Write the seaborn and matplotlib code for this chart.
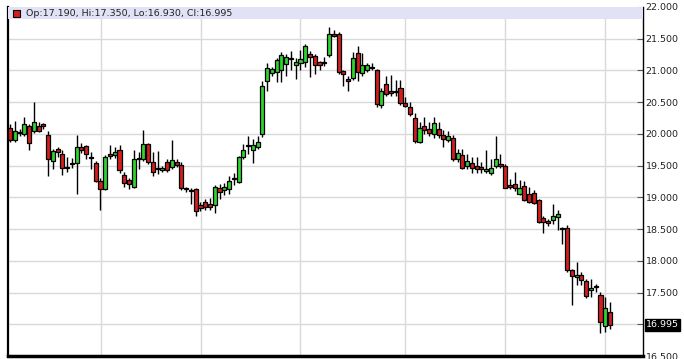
import numpy as np
import pandas as pd
import matplotlib
matplotlib.use("Agg")
import matplotlib.pyplot as plt
from matplotlib.patches import Rectangle
import seaborn as sns

# ---- data ----
opens = [20.09, 19.91, 20.01, 20.00, 20.13, 20.04, 20.13, 20.15, 19.99, 19.58,
         19.76, 19.69, 19.46, 19.52, 19.54, 19.80, 19.81, 19.62, 19.54, 19.26,
         19.13, 19.69, 19.67, 19.74, 19.35, 19.27, 19.17, 19.60, 19.61, 19.84,
         19.56, 19.45, 19.43, 19.56, 19.48, 19.56, 19.51, 19.13, 19.12, 19.13,
         18.88, 18.92, 18.90, 18.88, 19.14, 19.11, 19.13, 19.29, 19.24, 19.63,
         19.81, 19.75, 19.80, 20.00, 20.83, 20.96, 20.97, 21.00, 21.10, 21.18,
         21.09, 21.12, 21.14, 21.26, 21.22, 21.13, 21.12, 21.25, 21.58, 21.58,
         20.99, 20.86, 20.88, 21.28, 20.96, 21.01, 21.04, 21.00, 20.45, 20.79,
         20.67, 20.66, 20.72, 20.48, 20.42, 20.25, 19.87, 20.12, 20.07, 20.00,
         20.07, 19.98, 19.91, 19.93, 19.60, 19.67, 19.49, 19.54, 19.49, 19.48,
         19.41, 19.39, 19.49, 19.53, 19.49, 19.20, 19.21, 19.06, 19.18, 19.06,
         19.07, 18.96, 18.68, 18.62, 18.64, 18.69, 18.52, 18.52, 17.85, 17.74,
         17.78, 17.68, 17.54, 17.60, 17.46, 16.98, 17.19]
highs = [20.16, 20.21, 20.08, 20.27, 20.16, 20.50, 20.18, 20.17, 20.04, 19.76,
         19.80, 19.75, 19.63, 19.62, 19.98, 19.85, 19.83, 19.71, 19.58, 19.30,
         19.67, 19.82, 19.80, 19.82, 19.40, 19.30, 19.74, 19.71, 20.06, 19.86,
         19.71, 19.73, 19.50, 19.60, 19.90, 19.60, 19.55, 19.17, 19.15, 19.14,
         18.92, 18.97, 18.99, 19.20, 19.21, 19.23, 19.34, 19.39, 19.65, 19.84,
         19.97, 19.92, 19.97, 20.84, 21.12, 21.06, 21.20, 21.29, 21.26, 21.30,
         21.20, 21.32, 21.41, 21.30, 21.26, 21.15, 21.21, 21.68, 21.63, 21.61,
         21.00, 20.92, 21.29, 21.38, 21.27, 21.12, 21.11, 21.02, 20.72, 20.92,
         20.93, 20.85, 20.85, 20.58, 20.50, 20.33, 20.18, 20.26, 20.18, 20.26,
         20.19, 20.06, 20.05, 19.99, 19.77, 19.77, 19.68, 19.64, 19.64, 19.55,
         19.74, 19.60, 19.96, 19.69, 19.52, 19.29, 19.40, 19.28, 19.26, 19.16,
         19.12, 18.98, 18.70, 18.66, 18.90, 18.80, 18.54, 18.56, 17.87, 17.98,
         17.82, 17.72, 17.72, 17.64, 17.51, 17.43, 17.35]
lows = [19.87, 19.88, 19.96, 19.97, 19.75, 20.02, 20.03, 20.08, 19.33, 19.45,
        19.64, 19.35, 19.40, 19.47, 19.05, 19.70, 19.60, 19.45, 19.24, 18.80,
        19.11, 19.60, 19.62, 19.38, 19.17, 19.13, 19.15, 19.45, 19.58, 19.52,
        19.33, 19.37, 19.40, 19.40, 19.45, 19.48, 19.12, 19.08, 18.90, 18.70,
        18.78, 18.80, 18.80, 18.76, 18.98, 19.04, 19.05, 19.20, 19.22, 19.60,
        19.68, 19.54, 19.76, 19.95, 20.68, 20.92, 20.82, 20.82, 20.92, 21.00,
        20.87, 21.00, 21.05, 20.89, 20.95, 21.00, 21.07, 21.21, 21.52, 20.95,
        20.76, 20.68, 20.85, 20.84, 20.92, 20.98, 21.00, 20.42, 20.41, 20.60,
        20.60, 20.60, 20.45, 20.42, 20.29, 19.86, 19.85, 20.00, 19.97, 19.94,
        19.93, 19.80, 19.88, 19.58, 19.56, 19.44, 19.44, 19.39, 19.39, 19.38,
        19.38, 19.36, 19.47, 19.47, 19.14, 19.13, 19.10, 19.04, 18.94, 18.91,
        18.89, 18.59, 18.44, 18.55, 18.58, 18.48, 18.27, 17.83, 17.31, 17.62,
        17.62, 17.41, 17.43, 17.51, 16.86, 16.88, 16.93]
closes = [19.90, 20.04, 20.03, 20.15, 19.85, 20.19, 20.05, 20.12, 19.60, 19.73,
          19.71, 19.46, 19.48, 19.54, 19.79, 19.75, 19.69, 19.64, 19.26, 19.13,
          19.63, 19.65, 19.72, 19.43, 19.22, 19.21, 19.61, 19.62, 19.84, 19.56,
          19.40, 19.47, 19.46, 19.43, 19.59, 19.51, 19.14, 19.15, 19.10, 18.78,
          18.84, 18.85, 18.85, 19.16, 19.08, 19.16, 19.26, 19.31, 19.63, 19.75,
          19.83, 19.83, 19.88, 20.75, 21.04, 21.02, 21.16, 21.24, 21.21, 21.20,
          21.13, 21.18, 21.38, 21.21, 21.09, 21.09, 21.14, 21.58, 21.54, 20.97,
          20.95, 20.84, 21.20, 20.97, 21.08, 21.08, 21.06, 20.47, 20.68, 20.63,
          20.65, 20.67, 20.48, 20.44, 20.31, 19.89, 20.10, 20.06, 20.01, 20.17,
          19.98, 19.92, 19.97, 19.60, 19.70, 19.47, 19.57, 19.47, 19.45, 19.44,
          19.45, 19.46, 19.61, 19.49, 19.15, 19.17, 19.14, 19.15, 18.96, 18.93,
          18.91, 18.61, 18.61, 18.60, 18.71, 18.73, 18.50, 17.85, 17.76, 17.78,
          17.70, 17.45, 17.57, 17.58, 17.04, 17.25, 16.995]

y_ticks = [22.0, 21.5, 21.0, 20.5, 20.0, 19.5, 19.0, 18.5, 18.0, 17.5, 17.0, 16.5]
y_tick_labels = ["22.000", "21.500", "21.000", "20.500", "20.000", "19.500",
                 "19.000", "18.500", "18.000", "17.500", "17.000", "16.500"]
header_text = "Op:17.190, Hi:17.350, Lo:16.930, Cl:16.995"
last_label = "16.995"

df = pd.DataFrame({"open": opens, "high": highs, "low": lows, "close": closes})
df["idx"] = np.arange(len(df))
df["up"] = df["close"] >= df["open"]
df["bottom"] = df[["open", "close"]].min(axis=1)
df["height"] = (df["close"] - df["open"]).abs()

GREEN = "#2fd52f"
RED = "#d41e1e"

sns.set_theme(style="white")
plt.rcParams["font.family"] = ["DejaVu Sans"]

fig = plt.figure(figsize=(6.84, 3.59), dpi=100)
W, H = 684, 359
ax_l, ax_r, ax_t, ax_b = 8, 643, 7, 356
ax = fig.add_axes([ax_l / W, 1 - ax_b / H, (ax_r - ax_l) / W, (ax_b - ax_t) / H])

# wicks
ax.vlines(df["idx"], df["low"], df["high"], color="black", linewidth=1.0, zorder=3)
# bodies
colors = np.where(df["up"], GREEN, RED)
ax.bar(df["idx"], df["height"].clip(lower=0.004), bottom=df["bottom"], width=0.86,
       color=colors, edgecolor="black", linewidth=0.9, zorder=4)

ax.set_ylim(16.5, 22.0)
ax.set_xlim(-0.42, 132.93)

# grid
ax.set_xticks([19.1, 40.2, 61.0, 83.0, 104.0, 125.0])
ax.set_xticklabels([])
ax.set_yticks(y_ticks)
ax.set_yticklabels(y_tick_labels)
ax.grid(True, color="#d9d9d9", linewidth=1.0, zorder=0)
ax.set_axisbelow(True)
ax.yaxis.tick_right()
ax.tick_params(axis="y", direction="in", length=4, width=0.8, color="#555555",
               labelsize=6.8, pad=2, labelcolor="#222222", right=True, left=False)
ax.tick_params(axis="x", length=0)

ax.spines["top"].set_visible(False)
ax.spines["left"].set_color("black")
ax.spines["left"].set_linewidth(1.6)
ax.spines["right"].set_color("black")
ax.spines["right"].set_linewidth(1.0)
ax.spines["bottom"].set_color("black")
ax.spines["bottom"].set_linewidth(2.5)

# header band
band_h = 10.5 / (ax_b - ax_t)
ax.add_patch(Rectangle((0, 1 - band_h - 0.003), 1, band_h + 0.003, transform=ax.transAxes,
                       facecolor="#e2e2f6", edgecolor="none", zorder=5, clip_on=False))
sq_w = 7 / (ax_r - ax_l)
sq_h = 7 / (ax_b - ax_t)
ax.add_patch(Rectangle((5 / (ax_r - ax_l), 1 - 9.5 / (ax_b - ax_t)), sq_w, sq_h,
                       transform=ax.transAxes, facecolor="#d41e1e", edgecolor="black",
                       linewidth=0.8, zorder=6, clip_on=False))
ax.text(18 / (ax_r - ax_l), 1 - 6 / (ax_b - ax_t), header_text, transform=ax.transAxes,
        fontsize=6.8, color="#222222", va="center", ha="left", zorder=7)

# last price label
ax.text(1.0 + 3 / (ax_r - ax_l), closes[-1], last_label, transform=ax.get_yaxis_transform(),
        fontsize=6.8, color="white", va="center", ha="left", zorder=8, clip_on=False,
        bbox=dict(boxstyle="square,pad=0.15", facecolor="black", edgecolor="black"))

fig.savefig("out.png", dpi=100, facecolor="white")
